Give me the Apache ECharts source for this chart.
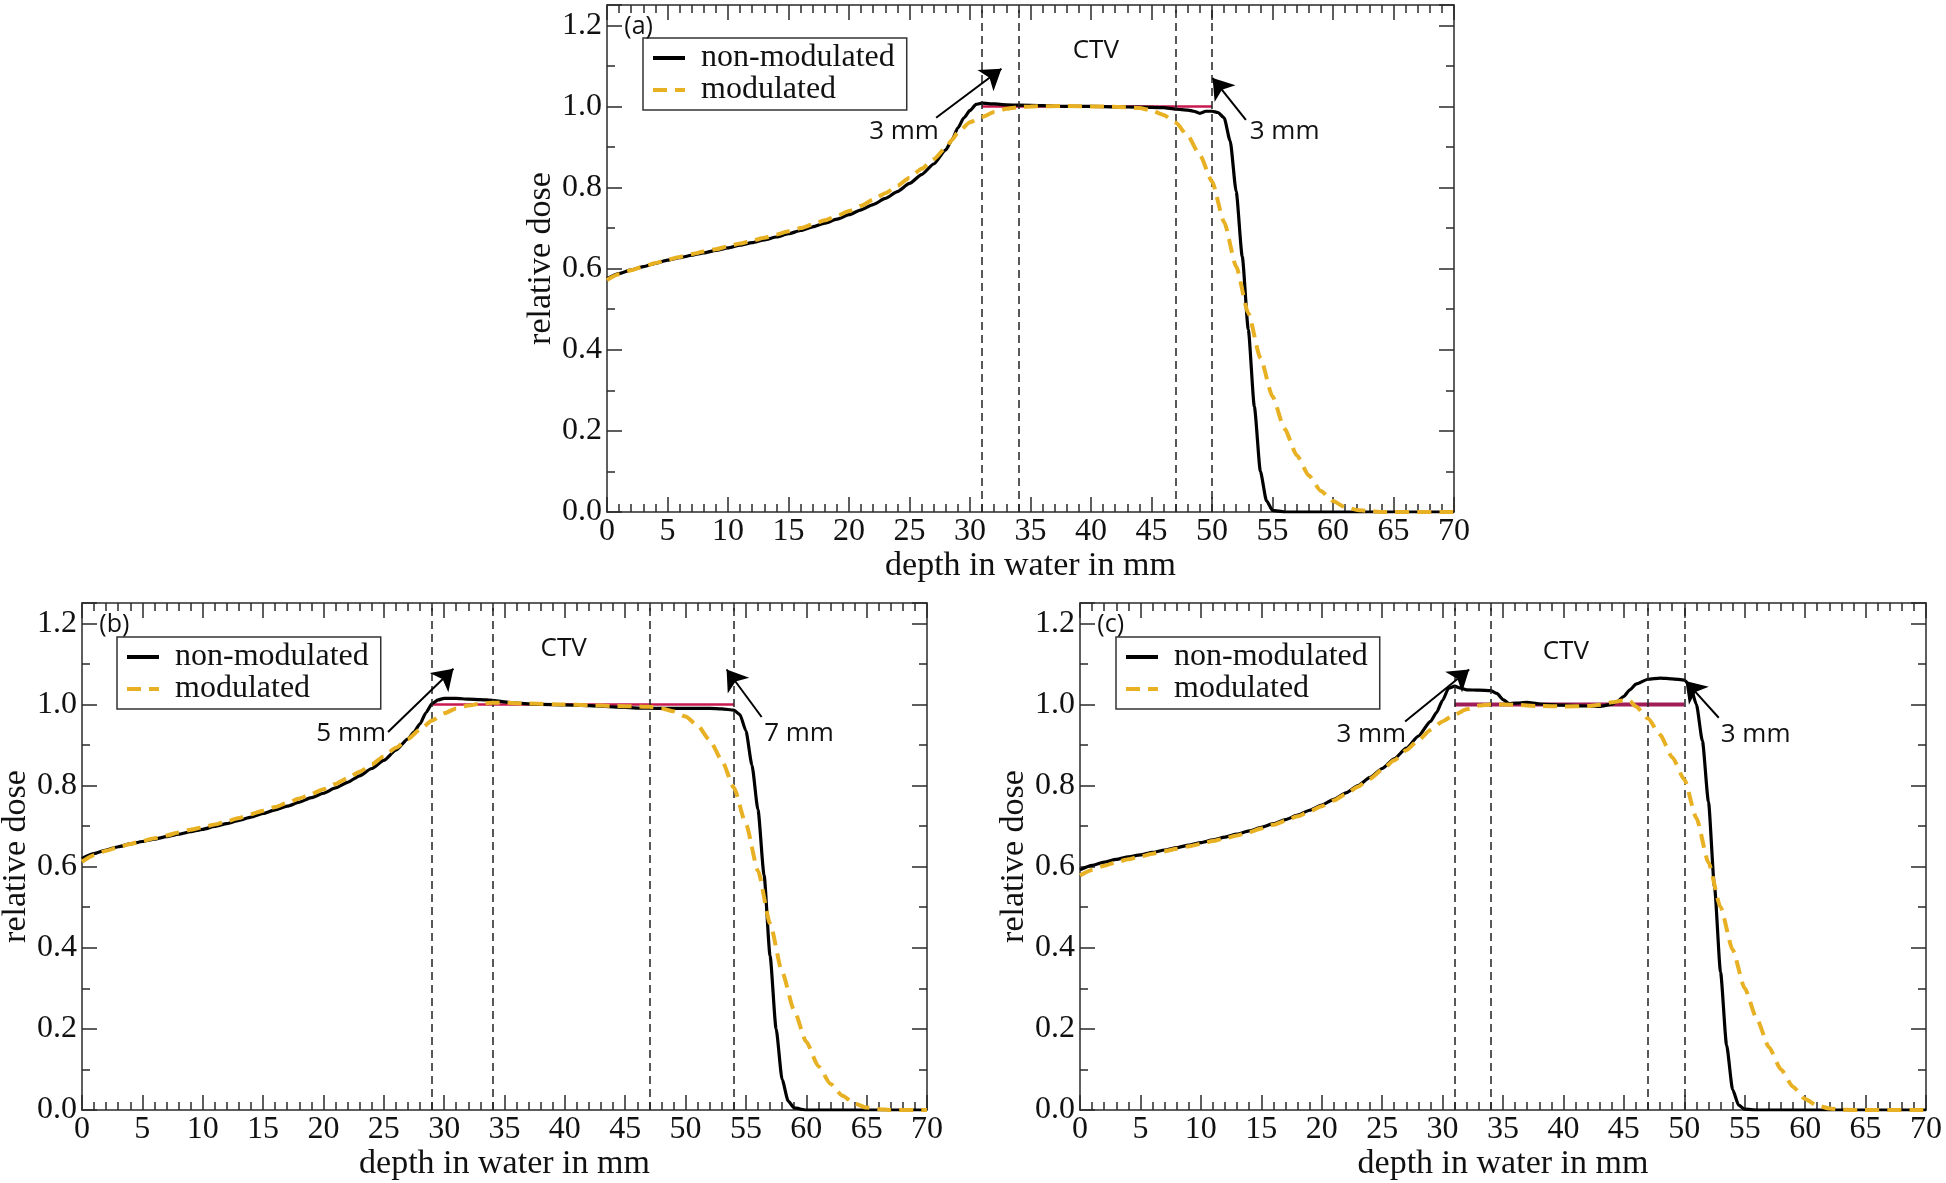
<!DOCTYPE html>
<html><head><meta charset="utf-8">
<script src="https://cdn.jsdelivr.net/npm/echarts@6/dist/echarts.min.js"></script>
<style>html,body{margin:0;padding:0;background:#fff}#c{width:1946px;height:1183px}</style>
</head><body><div id="c"></div>
<script>
// ---------- DATA ----------
const seriesNames = ['non-modulated', 'modulated'];
const panelTags = ['(a)', '(b)', '(c)'];

// panel (a)
const nonModA = [[0,0.575],[1,0.588],[2,0.597],[3,0.605],[4,0.613],[5,0.621],[6,0.627],[7,0.633],[8,0.639],[9,0.645],[10,0.651],[11,0.658],[12,0.664],[13,0.671],[14,0.678],[15,0.686],[16,0.694],[17,0.703],[18,0.712],[19,0.722],[20,0.733],[21,0.745],[22,0.758],[23,0.773],[24,0.79],[25,0.81],[26,0.832],[27,0.858],[28,0.893],[28.5,0.917],[29,0.947],[29.5,0.972],[30,0.99],[30.5,1.005],[31,1.008],[32,1.006],[33,1.004],[34,1.003],[36,1.002],[38,1.0],[40,1.0],[42,0.999],[44,0.998],[46,0.997],[47,0.993],[48,0.991],[48.5,0.988],[49,0.983],[49.5,0.988],[50,0.988],[50.5,0.985],[51,0.972],[51.5,0.915],[52,0.79],[52.5,0.63],[53,0.45],[53.5,0.26],[54,0.1],[54.5,0.028],[55,0.004],[56,0],[60,0],[65,0],[70,0]];
const modA = [[0,0.572],[1,0.586],[2,0.596],[3,0.605],[4,0.614],[5,0.622],[6,0.629],[7,0.636],[8,0.642],[9,0.648],[10,0.655],[11,0.662],[12,0.669],[13,0.676],[14,0.684],[15,0.692],[16,0.7],[17,0.709],[18,0.719],[19,0.73],[20,0.742],[21,0.755],[22,0.77],[23,0.786],[24,0.804],[25,0.824],[26,0.846],[27,0.87],[28,0.898],[28.5,0.917],[29,0.936],[30,0.961],[31,0.974],[32,0.986],[33,0.994],[34,0.998],[35,1.0],[38,1.001],[40,1.0],[42,0.999],[44,0.996],[45,0.99],[46,0.979],[47,0.96],[48,0.927],[49,0.88],[50,0.815],[51,0.715],[52,0.605],[53,0.49],[54,0.38],[55,0.285],[56,0.205],[57,0.14],[58,0.09],[59,0.052],[60,0.027],[61,0.012],[62,0.005],[63,0.002],[64,0],[70,0]];
const ctvLinesA = [31, 34, 47, 50];
const prescribedA = [[31,1.0],[50,1.0]];
const arrowsA = [[[27.2,0.972],[32.6,1.093]], [[52.8,0.967],[50.05,1.07]]];
const notesA = [[24.55,0.937,'3 mm'], [56.0,0.937,'3 mm'], [40.4,1.137,'CTV']];

// panel (b)
const nonModB = [[0,0.62],[1,0.632],[2,0.641],[3,0.649],[4,0.656],[5,0.662],[6,0.668],[7,0.674],[8,0.68],[9,0.686],[10,0.692],[11,0.699],[12,0.706],[13,0.714],[14,0.722],[15,0.731],[16,0.74],[17,0.749],[18,0.759],[19,0.77],[20,0.781],[21,0.794],[22,0.808],[23,0.824],[24,0.842],[25,0.862],[26,0.887],[27,0.915],[27.5,0.932],[28,0.952],[28.5,0.98],[29,1.002],[29.5,1.011],[30,1.015],[31,1.015],[32,1.013],[33,1.012],[34,1.01],[35,1.006],[36,1.003],[38,1.0],[40,0.999],[42,0.997],[44,0.994],[46,0.991],[48,0.99],[50,0.99],[52,0.99],[53,0.989],[54,0.986],[54.5,0.975],[55,0.935],[55.5,0.85],[56,0.74],[56.5,0.58],[57,0.38],[57.5,0.2],[58,0.075],[58.5,0.022],[59,0.005],[60,0],[65,0],[70,0]];
const modB = [[0,0.612],[1,0.628],[2,0.639],[3,0.648],[4,0.656],[5,0.663],[6,0.67],[7,0.677],[8,0.684],[9,0.691],[10,0.697],[11,0.704],[12,0.712],[13,0.72],[14,0.729],[15,0.738],[16,0.747],[17,0.757],[18,0.768],[19,0.779],[20,0.791],[21,0.804],[22,0.818],[23,0.834],[24,0.852],[25,0.872],[26,0.893],[27,0.915],[28,0.938],[29,0.96],[30,0.978],[31,0.99],[32,0.997],[33,1.002],[34,1.004],[35,1.004],[37,1.002],[40,1.0],[42,0.998],[44,0.996],[46,0.995],[47,0.994],[48,0.99],[49,0.983],[50,0.97],[51,0.948],[52,0.912],[53,0.862],[54,0.795],[55,0.705],[56,0.59],[57,0.46],[58,0.34],[59,0.245],[60,0.168],[61,0.108],[62,0.065],[63,0.035],[64,0.016],[65,0.006],[66,0.002],[67,0],[70,0]];
const ctvLinesB = [29, 34, 47, 54];
const prescribedB = [[29,1.0],[54,1.0]];
const arrowsB = [[[25.35,0.932],[30.77,1.088]], [[56.3,0.969],[53.4,1.086]]];
const notesB = [[22.3,0.927,'5 mm'], [59.4,0.927,'7 mm'], [39.9,1.137,'CTV']];

// panel (c)
const nonModC = [[0,0.592],[1,0.603],[2,0.611],[3,0.618],[4,0.624],[5,0.629],[6,0.635],[7,0.641],[8,0.647],[9,0.653],[10,0.659],[11,0.666],[12,0.673],[13,0.68],[14,0.688],[15,0.697],[16,0.706],[17,0.716],[18,0.727],[19,0.739],[20,0.752],[21,0.766],[22,0.782],[23,0.8],[24,0.82],[25,0.842],[26,0.866],[27,0.892],[28,0.922],[29,0.958],[29.5,0.98],[30,1.01],[30.5,1.04],[31,1.045],[31.5,1.04],[32,1.036],[33,1.035],[34,1.034],[34.5,1.027],[35,1.012],[35.5,1.002],[36,1.003],[37,1.005],[38,1.001],[40,0.998],[42,0.996],[43,0.995],[44,1.0],[44.5,1.008],[45,1.02],[45.5,1.036],[46,1.05],[47,1.062],[48,1.065],[49,1.063],[50,1.06],[50.5,1.045],[51,1.0],[51.5,0.91],[52,0.76],[52.5,0.55],[53,0.34],[53.5,0.16],[54,0.05],[54.5,0.012],[55,0.002],[56,0],[60,0],[65,0],[70,0]];
const modC = [[0,0.578],[1,0.592],[2,0.602],[3,0.611],[4,0.618],[5,0.625],[6,0.632],[7,0.638],[8,0.644],[9,0.65],[10,0.656],[11,0.663],[12,0.67],[13,0.677],[14,0.685],[15,0.694],[16,0.703],[17,0.713],[18,0.724],[19,0.736],[20,0.749],[21,0.763],[22,0.779],[23,0.797],[24,0.817],[25,0.839],[26,0.862],[27,0.887],[28,0.912],[29,0.937],[30,0.958],[31,0.975],[32,0.988],[33,0.997],[34,1.0],[36,0.999],[38,0.996],[40,0.995],[42,0.996],[43,0.999],[44,1.005],[45,1.01],[45.5,1.008],[46,0.995],[47,0.965],[48,0.925],[49,0.87],[50,0.815],[51,0.72],[52,0.61],[53,0.5],[54,0.395],[55,0.3],[56,0.225],[57,0.155],[58,0.1],[59,0.057],[60,0.027],[61,0.011],[62,0.004],[63,0.001],[64,0],[70,0]];
const ctvLinesC = [31, 34, 47, 50];
const prescribedC = [[31,1.0],[50,1.0]];
const arrowsC = [[[26.9,0.958],[32.2,1.086]], [[52.85,0.967],[50.1,1.058]]];
const notesC = [[24.1,0.925,'3 mm'], [55.9,0.925,'3 mm'], [40.2,1.13,'CTV']];

const tagPos = [1.35, 1.195];

// ---------- LAYOUT / STYLE ----------
const SERIF = 'Liberation Serif';
const SANS = 'Open Sans';
const AX = '#2a2a2a';
const panels = [
  {grid:{left:607, top:5, width:847, height:507}, legend:{left:643, top:38}, black:nonModA, orange:modA, ctv:ctvLinesA, presc:prescribedA, arrows:arrowsA, notes:notesA, prescColor:'#C8194E', prescWidth:2.5},
  {grid:{left:82, top:603, width:845, height:507}, legend:{left:117, top:637}, black:nonModB, orange:modB, ctv:ctvLinesB, presc:prescribedB, arrows:arrowsB, notes:notesB, prescColor:'#C8194E', prescWidth:2.5},
  {grid:{left:1080, top:603, width:846, height:507}, legend:{left:1116, top:637}, black:nonModC, orange:modC, ctv:ctvLinesC, presc:prescribedC, arrows:arrowsC, notes:notesC, prescColor:'#A01D5A', prescWidth:4}
];

const grids = [], xAxes = [], yAxes = [], series = [], legends = [];
const yFmt = v => (Math.abs(v * 5 - Math.round(v * 5)) < 1e-6 ? v.toFixed(1) : '');

panels.forEach((p, g) => {
  grids.push(Object.assign({containLabel:false, outerBoundsMode:'none'}, p.grid));
  const xBase = {type:'value', gridIndex:g, min:0, max:70, interval:5,
    axisLine:{show:true, onZero:false, lineStyle:{color:AX, width:1.5}},
    axisTick:{show:true, inside:true, length:15, lineStyle:{color:AX, width:1.5}},
    minorTick:{show:true, splitNumber:5, length:8, lineStyle:{color:AX, width:1.5}},
    splitLine:{show:false}};
  xAxes.push(Object.assign({}, xBase, {position:'bottom',
    axisLabel:{show:true, margin:4, fontFamily:SERIF, fontSize:32, color:'#111'},
    name:'depth in water in mm', nameLocation:'middle', nameGap:32,
    nameTextStyle:{fontFamily:SERIF, fontSize:34, color:'#111'}}));
  xAxes.push(Object.assign({}, xBase, {position:'top', axisLabel:{show:false}}));
  const yBase = {type:'value', gridIndex:g, min:0, max:1.25, splitLine:{show:false}};
  const major = {interval:0.2, axisLine:{show:true, onZero:false, lineStyle:{color:AX, width:1.5}},
    axisTick:{show:true, inside:true, length:15, lineStyle:{color:AX, width:1.5}}};
  const minor = {interval:0.1, axisLine:{show:false, onZero:false},
    axisTick:{show:true, inside:true, length:8, lineStyle:{color:AX, width:1.5}}, axisLabel:{show:false}};
  yAxes.push(Object.assign({}, yBase, major, {position:'left',
    axisLabel:{show:true, margin:5, formatter:yFmt, fontFamily:SERIF, fontSize:32, color:'#111'},
    name:'relative dose', nameLocation:'middle', nameGap:44, nameRotate:90,
    nameTextStyle:{fontFamily:SERIF, fontSize:34, color:'#111'}}));
  yAxes.push(Object.assign({}, yBase, minor, {position:'left'}));
  yAxes.push(Object.assign({}, yBase, major, {position:'right', axisLabel:{show:false}}));
  yAxes.push(Object.assign({}, yBase, minor, {position:'right'}));

  const xi = 2 * g, yi = 4 * g;
  // prescribed dose line + vertical dashed CTV lines
  series.push({type:'line', name:'prescribed', xAxisIndex:xi, yAxisIndex:yi, data:p.presc,
    symbol:'none', silent:true, lineStyle:{color:p.prescColor, width:p.prescWidth}, z:3,
    markLine:{silent:true, symbol:['none','none'], label:{show:false},
      lineStyle:{color:'#222', width:1.5, type:[8,5]},
      data:p.ctv.map(v => ({xAxis:v}))}});
  // non-modulated (black)
  series.push({type:'line', name:seriesNames[0], xAxisIndex:xi, yAxisIndex:yi, data:p.black,
    symbol:'none', smooth:0.2, smoothMonotone:'x', silent:true,
    lineStyle:{color:'#000', width:3.2}, itemStyle:{color:'#000'}, z:4,
    markLine:{silent:true, symbol:['none','arrow'], symbolSize:20, label:{show:false},
      lineStyle:{color:'#000', width:2, type:'solid'},
      data:p.arrows.map(a => [{coord:a[0]}, {coord:a[1]}])}});
  // modulated (orange dashed)
  series.push({type:'line', name:seriesNames[1], xAxisIndex:xi, yAxisIndex:yi, data:p.orange,
    symbol:'none', smooth:0.2, smoothMonotone:'x', silent:true,
    lineStyle:{color:'#E8B023', width:4, type:[14,8]}, itemStyle:{color:'#E8B023'}, z:5,
    markPoint:{silent:true, symbol:'circle', symbolSize:0,
      label:{show:true, position:'inside', fontFamily:SANS, fontSize:26, color:'#111', formatter:'{c}'},
      data:p.notes.map(n => ({coord:[n[0], n[1]], value:n[2]})).concat([
        {coord:tagPos, value:panelTags[g], label:{position:'right', offset:[-4,0], fontSize:25}}])}});

  legends.push({show:true, left:p.legend.left, top:p.legend.top, orient:'vertical',
    data:seriesNames.map(n => ({name:n, itemStyle:{opacity:0}})),
    itemWidth:32, itemHeight:14, itemGap:0, selectedMode:false,
    itemStyle:{opacity:0}, lineStyle:{width:4, cap:'butt'},
    backgroundColor:'#fff', borderColor:'#333', borderWidth:1.5, borderRadius:0,
    padding:[4, 12, 4, 8],
    textStyle:{fontFamily:SERIF, fontSize:32, color:'#111', lineHeight:30, padding:[0,0,0,11]}});
});

const chart = echarts.init(document.getElementById('c'), null, {renderer:'canvas'});
chart.setOption({animation:false, backgroundColor:'#fff', grid:grids, xAxis:xAxes, yAxis:yAxes,
  legend:legends, series:series});
</script></body></html>
